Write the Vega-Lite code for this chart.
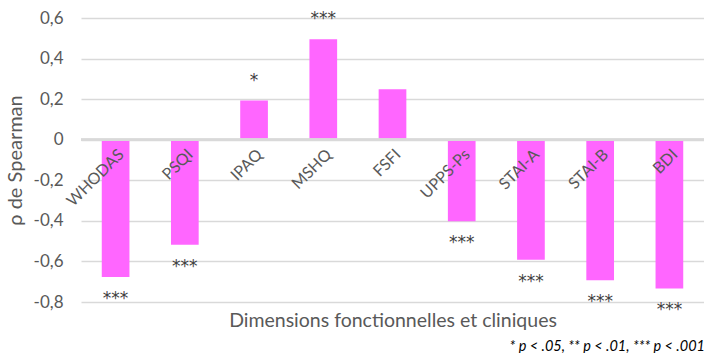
{
  "$schema": "https://vega.github.io/schema/vega-lite/v6.json",
  "width": 623,
  "height": 284,
  "autosize": {"type": "none"},
  "padding": {"left": 81, "top": 18, "right": 0, "bottom": 51},
  "config": {"view": {"stroke": null}, "font": "Lato"},
  "title": {
    "text": "* p < .05, ** p < .01, *** p < .001",
    "orient": "bottom",
    "anchor": "end",
    "fontStyle": "italic",
    "fontWeight": "normal",
    "fontSize": 14.5,
    "color": "#000000",
    "font": "Lato",
    "offset": 10
  },
  "data": {
    "values": [
      {"dim": "WHODAS", "rho": -0.677, "sig": "***"},
      {"dim": "PSQI", "rho": -0.518, "sig": "***"},
      {"dim": "IPAQ", "rho": 0.193, "sig": "*"},
      {"dim": "MSHQ", "rho": 0.495, "sig": "***"},
      {"dim": "FSFI", "rho": 0.249, "sig": ""},
      {"dim": "UPPS-Ps", "rho": -0.402, "sig": "***"},
      {"dim": "STAI-A", "rho": -0.592, "sig": "***"},
      {"dim": "STAI-B", "rho": -0.693, "sig": "***"},
      {"dim": "BDI", "rho": -0.733, "sig": "***"}
    ]
  },
  "layer": [
    {
      "mark": {"type": "bar", "color": "#FF66FF"},
      "encoding": {
        "x": {
          "field": "dim",
          "type": "nominal",
          "sort": null,
          "scale": {"paddingInner": 0.6, "paddingOuter": 0.3},
          "axis": {
            "title": "Dimensions fonctionnelles et cliniques",
            "offset": -162,
            "zindex": 2,
            "labelAngle": -45,
            "labelAlign": "right",
            "labelBaseline": "top",
            "ticks": false,
            "domain": false,
            "grid": false,
            "labelPadding": 6,
            "labelFontSize": 16,
            "labelColor": "#595959",
            "titleY": 180,
            "titleBaseline": "middle",
            "titleFontSize": 19.5,
            "titleColor": "#595959",
            "titleFontWeight": "normal"
          }
        },
        "y": {
          "field": "rho",
          "type": "quantitative",
          "scale": {"domain": [-0.8, 0.6], "nice": false, "zero": false},
          "axis": {
            "title": "ρ de Spearman",
            "values": [-0.8, -0.6, -0.4, -0.2, 0, 0.2, 0.4, 0.6],
            "labelExpr": "datum.value == 0 ? '0' : replace(replace(format(datum.value, '.1f'), '.', ','), '\u2212', '-')",
            "ticks": false,
            "domain": false,
            "gridColor": "#d9d9d9",
            "gridWidth": 1.3,
            "labelPadding": 18,
            "labelFontSize": 17,
            "labelColor": "#595959",
            "titleFontSize": 20,
            "titleColor": "#595959",
            "titleFontWeight": "normal",
            "titlePadding": 8
          }
        }
      }
    },
    {
      "mark": {"type": "rule", "color": "#d9d9d9", "strokeWidth": 2},
      "encoding": {"y": {"datum": 0}}
    },
    {
      "transform": [{"filter": "datum.rho > 0"}],
      "mark": {"type": "text", "fontSize": 17, "font": "DejaVu Sans", "color": "#404040", "baseline": "middle", "dy": -20},
      "encoding": {
        "x": {"field": "dim", "type": "nominal", "sort": null},
        "y": {"field": "rho", "type": "quantitative"},
        "text": {"field": "sig"}
      }
    },
    {
      "transform": [{"filter": "datum.rho < 0"}],
      "mark": {"type": "text", "fontSize": 17, "font": "DejaVu Sans", "color": "#404040", "baseline": "middle", "dy": 22},
      "encoding": {
        "x": {"field": "dim", "type": "nominal", "sort": null},
        "y": {"field": "rho", "type": "quantitative"},
        "text": {"field": "sig"}
      }
    }
  ]
}
